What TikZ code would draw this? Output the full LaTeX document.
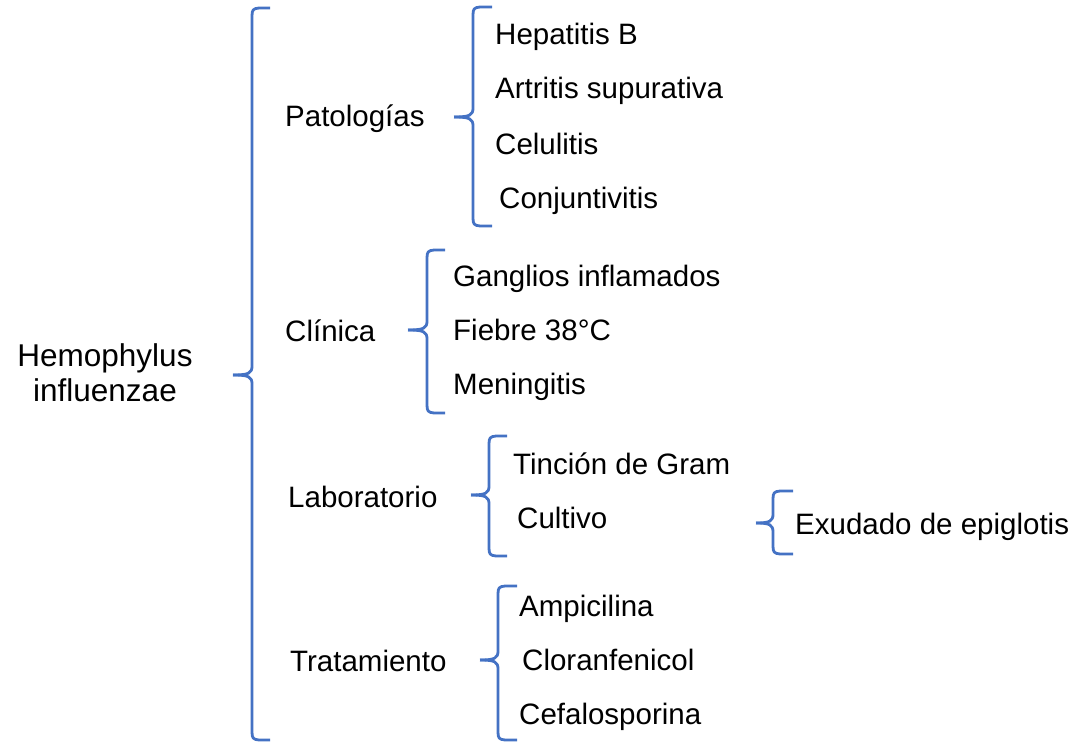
\documentclass[tikz,border=0pt]{standalone}
\usepackage{fontspec}
\setmainfont{Liberation Sans}
\definecolor{bl}{HTML}{4472C4}
\tikzset{
  br/.style={draw=bl, line width=2.8pt, line join=round},
  lbl/.style={anchor=base west, inner sep=0pt, font=\fontsize{29.5}{33}\selectfont},
  ttl/.style={anchor=base, inner sep=0pt, font=\fontsize{31.5}{35}\selectfont}
}
% #1 x of vertical, #2 top y, #3 bottom y, #4 right end x, #5 tip x, #6 tip y
\newcommand\mybrc[6]{%
  \draw[br] (#4,#2) -- (#1+7,#2) .. controls (#1+1,#2+0.5) and (#1,#2+2) .. (#1,#2+8)
     -- (#1,#6-9) .. controls (#1,#6-2) and (#1-3,#6) .. (#5,#6);
  \draw[br] (#4,#3) -- (#1+7,#3) .. controls (#1+1,#3-0.5) and (#1,#3-2) .. (#1,#3-8)
     -- (#1,#6+9) .. controls (#1,#6+2) and (#1-3,#6) .. (#5,#6);
}
\begin{document}
\begin{tikzpicture}[x=1pt,y=-1pt]
\useasboundingbox (0,0) rectangle (1073,743);
% braces
\mybrc{252}{8}{740}{270}{233}{375}
\mybrc{473}{7}{226}{492}{454}{117}
\mybrc{427}{250}{413}{445}{408}{330}
\mybrc{489}{436}{556}{507}{471}{495}
\mybrc{498}{586}{740}{517}{480}{660}
\mybrc{773}{491}{554}{793}{756}{523}
% title
\node[ttl] (t1) at (105,366) {Hemophylus};
\node[ttl] (t2) at (105,401) {influenzae};
% level 1
\node[lbl] (pat) at (285,127) {Patologías};
\node[lbl] (cli) at (285,341) {Clínica};
\node[lbl] (lab) at (288,507) {Laboratorio};
\node[lbl] (tra) at (290,671) {Tratamiento};
% patologias
\node[lbl] (p1) at (495,45) {Hepatitis B};
\node[lbl] (p2) at (495,99) {Artritis supurativa};
\node[lbl] (p3) at (495,155) {Celulitis};
\node[lbl] (p4) at (499,209) {Conjuntivitis};
% clinica
\node[lbl] (c1) at (453,287) {Ganglios inflamados};
\node[lbl] (c2) at (453,340) {Fiebre 38°C};
\node[lbl] (c3) at (453,394) {Meningitis};
% laboratorio
\node[lbl] (l1) at (513,474) {Tinción de Gram};
\node[lbl] (l2) at (517,528) {Cultivo};
\node[lbl] (l3) at (795,534) {Exudado de epiglotis};
% tratamiento
\node[lbl] (r1) at (519,616) {Ampicilina};
\node[lbl] (r2) at (522,670) {Cloranfenicol};
\node[lbl] (r3) at (519,724) {Cefalosporina};
\end{tikzpicture}
\end{document}
